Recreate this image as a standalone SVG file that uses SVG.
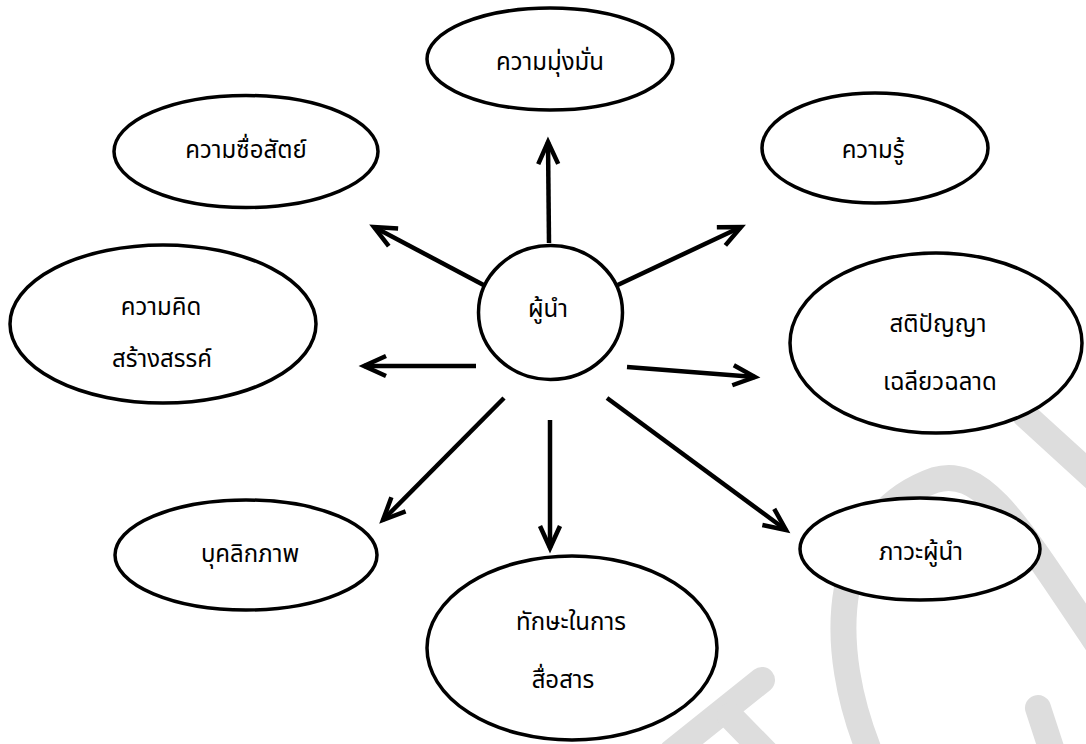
<svg xmlns="http://www.w3.org/2000/svg" width="1086" height="744" viewBox="0 0 1086 744">
<style>
.node{fill:#fff;stroke:#000;stroke-width:3.5}
.lbl{font-family:"Noto Sans Thai","Noto Sans","DejaVu Sans",sans-serif;font-size:24px;fill:#000;text-anchor:middle}
.wm{fill:none;stroke:#dddddd;stroke-width:26;stroke-linecap:round}
.conn line{stroke:#000;stroke-width:4.5;marker-end:url(#ah)}
</style>
<defs>
<marker id="ah" markerUnits="userSpaceOnUse" markerWidth="40" markerHeight="40" viewBox="-30 -20 40 40" refX="0" refY="0" orient="auto">
<path d="M -22 -10 L 0 0 L -22 10" fill="none" stroke="#000" stroke-width="4.5" stroke-linejoin="miter"/>
</marker>
</defs>
<rect width="1086" height="744" fill="#fff"/>
<g id="watermark">
<path class="wm" d="M 1025 415 L 1105 488"/>
<path class="wm" d="M 875 765 C 820 640, 835 515, 935 480 C 985 465, 1020 530, 1105 655"/>
<path class="wm" d="M 1038 708 L 1055 760"/>
<path class="wm" d="M 672 752 L 762 680"/>
<path class="wm" d="M 730 716 L 775 762"/>
</g>
<g id="connectors" class="conn">
<line x1="549" y1="243" x2="548" y2="142"/>
<line x1="493" y1="290" x2="374" y2="227"/>
<line x1="607" y1="290" x2="741" y2="227"/>
<line x1="476" y1="366" x2="364" y2="366"/>
<line x1="627" y1="367" x2="755" y2="377"/>
<line x1="504" y1="398" x2="383" y2="520"/>
<line x1="550" y1="420" x2="550" y2="548"/>
<line x1="607" y1="398" x2="786" y2="530"/>
</g>
<g id="n-center"><ellipse class="node" cx="550.5" cy="312.5" rx="72" ry="67"/><text class="lbl" x="548" y="317">ผู้นำ</text></g>
<g id="n-determination"><ellipse class="node" cx="550" cy="59" rx="123" ry="51"/><text class="lbl" x="550" y="70">ความมุ่งมั่น</text></g>
<g id="n-honesty"><ellipse class="node" cx="246" cy="151.5" rx="132" ry="56"/><text class="lbl" x="246" y="158">ความซื่อสัตย์</text></g>
<g id="n-knowledge"><ellipse class="node" cx="875" cy="148" rx="113" ry="55"/><text class="lbl" x="873" y="158">ความรู้</text></g>
<g id="n-creativity"><ellipse class="node" cx="163" cy="324" rx="153" ry="79"/><text class="lbl" x="161" y="315">ความคิด</text><text class="lbl" x="162" y="367">สร้างสรรค์</text></g>
<g id="n-intelligence"><ellipse class="node" cx="936" cy="343" rx="146" ry="90"/><text class="lbl" x="938" y="332">สติปัญญา</text><text class="lbl" x="940" y="390">เฉลียวฉลาด</text></g>
<g id="n-personality"><ellipse class="node" cx="246" cy="555" rx="131" ry="55"/><text class="lbl" x="250" y="562">บุคลิกภาพ</text></g>
<g id="n-communication"><ellipse class="node" cx="572" cy="648" rx="145" ry="92"/><text class="lbl" x="571" y="630">ทักษะในการ</text><text class="lbl" x="563" y="688">สื่อสาร</text></g>
<g id="n-leadership"><ellipse class="node" cx="920" cy="549" rx="120" ry="51"/><text class="lbl" x="921" y="560">ภาวะผู้นำ</text></g>
</svg>
